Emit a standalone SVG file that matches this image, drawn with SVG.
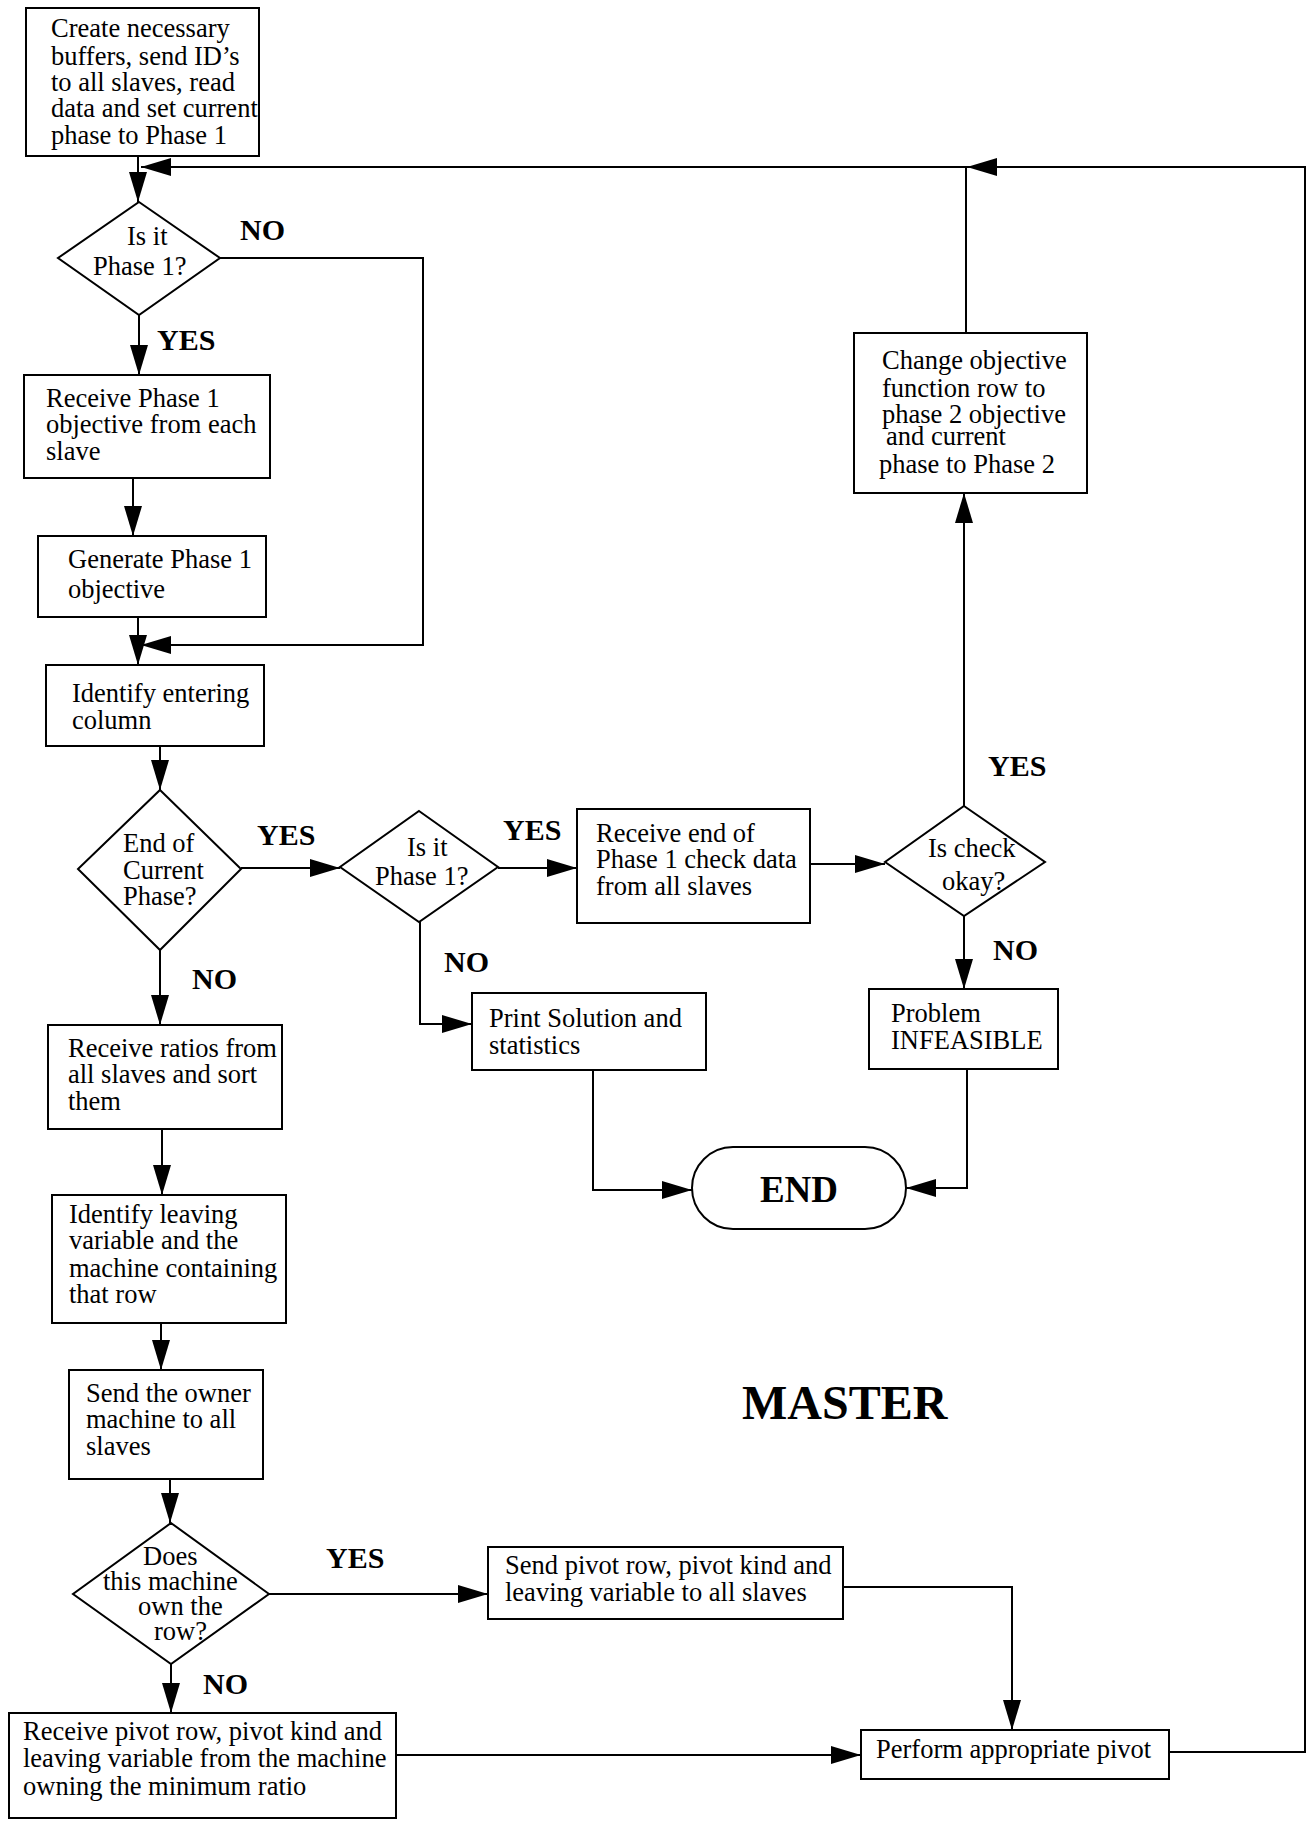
<svg xmlns="http://www.w3.org/2000/svg" width="1307" height="1827" viewBox="0 0 1307 1827">
<style>
.box{fill:#fff;stroke:#000;stroke-width:2}
.t{font-family:"Liberation Serif","Times New Roman",serif;font-size:26.5px;fill:#000}
.lb{font-family:"Liberation Serif","Times New Roman",serif;font-size:30px;font-weight:bold;fill:#000}
.c{fill:none;stroke:#000;stroke-width:2}
</style>
<defs>
<marker id="ah" markerUnits="userSpaceOnUse" markerWidth="32" markerHeight="20" refX="30" refY="9" orient="auto" viewBox="0 0 32 20">
<path d="M0,0 L30,9 L0,18 z" fill="#000"/>
</marker>
</defs>
<rect width="1307" height="1827" fill="#fff"/>

<g id="connectors">
<path class="c" d="M138,156 V202" marker-end="url(#ah)"/>
<path class="c" d="M1169,1752 H1305 V167 H967" marker-end="url(#ah)"/>
<path class="c" d="M966,333 V167 H141" marker-end="url(#ah)"/>
<path class="c" d="M139,315 V375" marker-end="url(#ah)"/>
<path class="c" d="M220,258 H423 V645 H141" marker-end="url(#ah)"/>
<path class="c" d="M133,478 V536" marker-end="url(#ah)"/>
<path class="c" d="M138,617 V665" marker-end="url(#ah)"/>
<path class="c" d="M160,746 V790" marker-end="url(#ah)"/>
<path class="c" d="M241,868 H340" marker-end="url(#ah)"/>
<path class="c" d="M498,868 H577" marker-end="url(#ah)"/>
<path class="c" d="M810,864 H885" marker-end="url(#ah)"/>
<path class="c" d="M964,806 V493" marker-end="url(#ah)"/>
<path class="c" d="M964,916 V989" marker-end="url(#ah)"/>
<path class="c" d="M967,1069 V1188 H906" marker-end="url(#ah)"/>
<path class="c" d="M420,922 V1024 H472" marker-end="url(#ah)"/>
<path class="c" d="M593,1070 V1190 H692" marker-end="url(#ah)"/>
<path class="c" d="M160,950 V1025" marker-end="url(#ah)"/>
<path class="c" d="M162,1129 V1195" marker-end="url(#ah)"/>
<path class="c" d="M161,1323 V1370" marker-end="url(#ah)"/>
<path class="c" d="M170,1479 V1523" marker-end="url(#ah)"/>
<path class="c" d="M269,1594 H488" marker-end="url(#ah)"/>
<path class="c" d="M171,1664 V1713" marker-end="url(#ah)"/>
<path class="c" d="M396,1755 H861" marker-end="url(#ah)"/>
<path class="c" d="M843,1587 H1012 V1730" marker-end="url(#ah)"/>
</g>

<g id="labels">
<text class="lb" x="240" y="240">NO</text>
<text class="lb" x="157" y="350">YES</text>
<text class="lb" x="257" y="845">YES</text>
<text class="lb" x="192" y="989">NO</text>
<text class="lb" x="503" y="840">YES</text>
<text class="lb" x="444" y="972">NO</text>
<text class="lb" x="988" y="776">YES</text>
<text class="lb" x="993" y="960">NO</text>
<text class="lb" x="326" y="1568">YES</text>
<text class="lb" x="203" y="1694">NO</text>
<text class="lb" x="742" y="1419" style="font-size:48px">MASTER</text>
</g>

<g id="start">
<rect class="box" x="26" y="8" width="233" height="148"/>
<text class="t" x="51" y="37">Create necessary</text>
<text class="t" x="51" y="65">buffers, send ID’s</text>
<text class="t" x="51" y="91">to all slaves, read</text>
<text class="t" x="51" y="117">data and set current</text>
<text class="t" x="51" y="144">phase to Phase 1</text>
</g>

<g id="isPhase1a">
<polygon class="box" points="139,202 220,258 139,315 58,258"/>
<text class="t" x="127" y="245">Is it</text>
<text class="t" x="93" y="275">Phase 1?</text>
</g>

<g id="receivePhase1">
<rect class="box" x="24" y="375" width="246" height="103"/>
<text class="t" x="46" y="407">Receive Phase 1</text>
<text class="t" x="46" y="433">objective from each</text>
<text class="t" x="46" y="460">slave</text>
</g>

<g id="generatePhase1">
<rect class="box" x="38" y="536" width="228" height="81"/>
<text class="t" x="68" y="568">Generate Phase 1</text>
<text class="t" x="68" y="598">objective</text>
</g>

<g id="identifyEntering">
<rect class="box" x="46" y="665" width="218" height="81"/>
<text class="t" x="72" y="702">Identify entering</text>
<text class="t" x="72" y="729">column</text>
</g>

<g id="endOfPhase">
<polygon class="box" points="160,790 241,869 160,950 78,869"/>
<text class="t" x="123" y="852">End of</text>
<text class="t" x="123" y="879">Current</text>
<text class="t" x="123" y="905">Phase?</text>
</g>

<g id="isPhase1b">
<polygon class="box" points="419,811 498,867 419,922 340,867"/>
<text class="t" x="407" y="856">Is it</text>
<text class="t" x="375" y="885">Phase 1?</text>
</g>

<g id="receiveEnd">
<rect class="box" x="577" y="809" width="233" height="114"/>
<text class="t" x="596" y="842">Receive end of</text>
<text class="t" x="596" y="868">Phase 1 check data</text>
<text class="t" x="596" y="895">from all slaves</text>
</g>

<g id="isCheckOkay">
<polygon class="box" points="964,806 1045,862 964,916 885,862"/>
<text class="t" x="928" y="857">Is check</text>
<text class="t" x="942" y="890">okay?</text>
</g>

<g id="changeObjective">
<rect class="box" x="854" y="333" width="233" height="160"/>
<text class="t" x="882" y="369">Change objective</text>
<text class="t" x="882" y="397">function row to</text>
<text class="t" x="882" y="423">phase 2 objective</text>
<text class="t" x="886" y="445">and current</text>
<text class="t" x="879" y="473">phase to Phase 2</text>
</g>

<g id="problemInfeasible">
<rect class="box" x="869" y="989" width="189" height="80"/>
<text class="t" x="891" y="1022">Problem</text>
<text class="t" x="891" y="1049">INFEASIBLE</text>
</g>

<g id="printSolution">
<rect class="box" x="472" y="993" width="234" height="77"/>
<text class="t" x="489" y="1027">Print Solution and</text>
<text class="t" x="489" y="1054">statistics</text>
</g>

<g id="end">
<rect class="box" x="692" y="1147" width="214" height="82" rx="41" ry="41"/>
<text class="lb" x="799" y="1202" text-anchor="middle" style="font-size:37px">END</text>
</g>

<g id="receiveRatios">
<rect class="box" x="48" y="1025" width="234" height="104"/>
<text class="t" x="68" y="1057">Receive ratios from</text>
<text class="t" x="68" y="1083">all slaves and sort</text>
<text class="t" x="68" y="1110">them</text>
</g>

<g id="identifyLeaving">
<rect class="box" x="52" y="1195" width="234" height="128"/>
<text class="t" x="69" y="1223">Identify leaving</text>
<text class="t" x="69" y="1249">variable and the</text>
<text class="t" x="69" y="1277">machine containing</text>
<text class="t" x="69" y="1303">that row</text>
</g>

<g id="sendOwner">
<rect class="box" x="69" y="1370" width="194" height="109"/>
<text class="t" x="86" y="1402">Send the owner</text>
<text class="t" x="86" y="1428">machine to all</text>
<text class="t" x="86" y="1455">slaves</text>
</g>

<g id="ownRow">
<polygon class="box" points="171,1523 269,1594 171,1664 73,1594"/>
<text class="t" x="143" y="1565">Does</text>
<text class="t" x="103" y="1590">this machine</text>
<text class="t" x="138" y="1615">own the</text>
<text class="t" x="154" y="1640">row?</text>
</g>

<g id="sendPivot">
<rect class="box" x="488" y="1547" width="355" height="72"/>
<text class="t" x="505" y="1574">Send pivot row, pivot kind and</text>
<text class="t" x="505" y="1601">leaving variable to all slaves</text>
</g>

<g id="receivePivot">
<rect class="box" x="9" y="1713" width="387" height="105"/>
<text class="t" x="23" y="1740">Receive pivot row, pivot kind and</text>
<text class="t" x="23" y="1767">leaving variable from the machine</text>
<text class="t" x="23" y="1795">owning the minimum ratio</text>
</g>

<g id="performPivot">
<rect class="box" x="861" y="1730" width="308" height="49"/>
<text class="t" x="876" y="1758">Perform appropriate pivot</text>
</g>
</svg>
